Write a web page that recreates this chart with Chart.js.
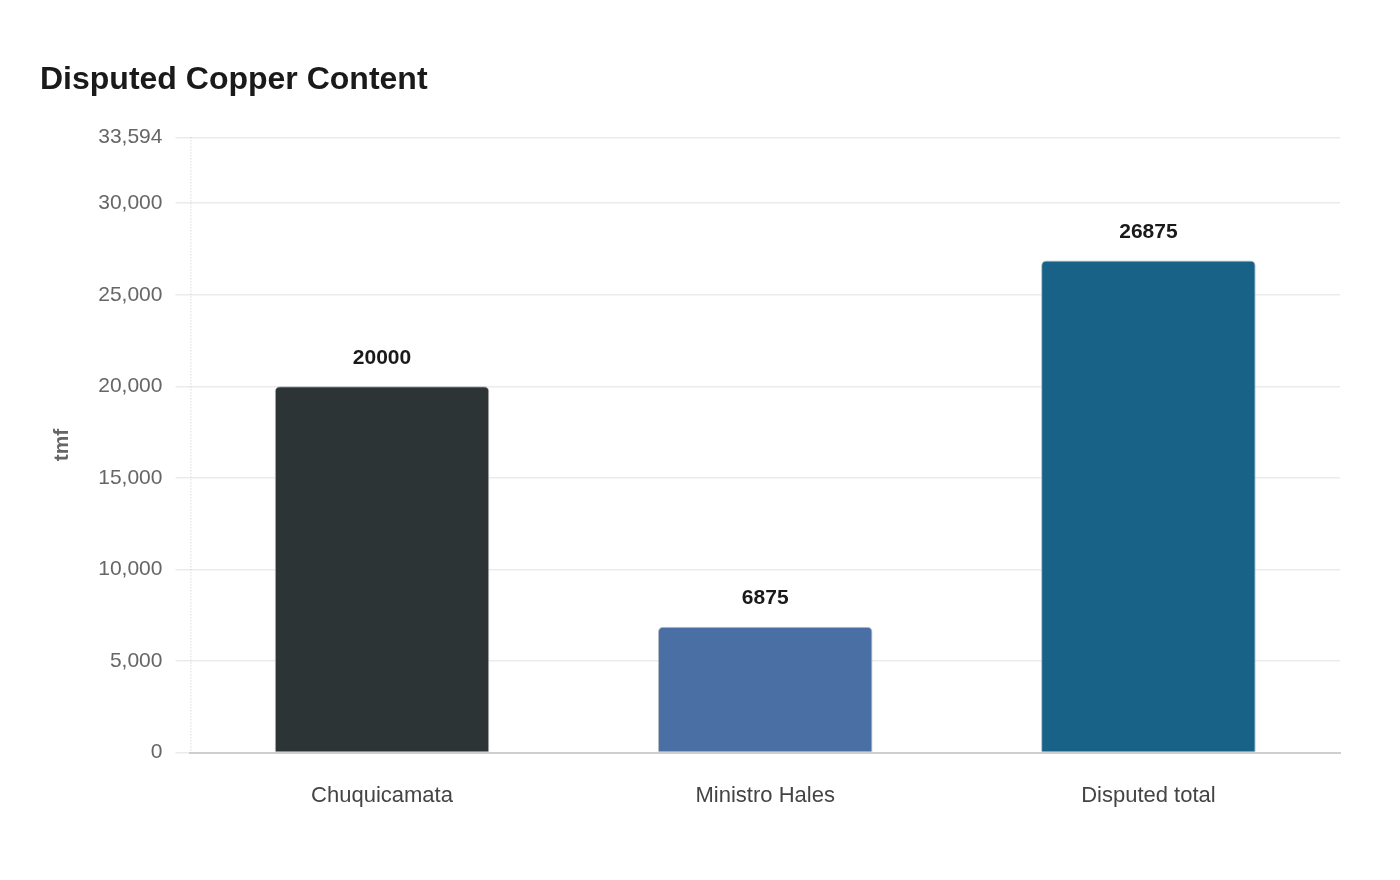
<!DOCTYPE html>
<html>
<head>
<meta charset="utf-8">
<script src="https://cdn.jsdelivr.net/npm/chart.js@4"></script>
<style>
  html, body { margin: 0; padding: 0; background: #fff; }
  #wrap { width: 1400px; height: 880px; }
</style>
</head>
<body>
<div id="wrap"><canvas id="c"></canvas></div>
<script>
// data
const categories = ["Chuquicamata", "Ministro Hales", "Disputed total"];
const copperTmf = [20000, 6875, 26875];
const barColors = ["#2d3436", "#4a6fa5", "#186187"];
const tickValues = [0, 5000, 10000, 15000, 20000, 25000, 30000];
const axisMax = 33593.75;

const FONT = "'Liberation Sans', Arial, sans-serif";

// draw the value above each bar
const barLabels = {
  id: "barLabels",
  afterDatasetsDraw(chart) {
    const ctx = chart.ctx;
    const meta = chart.getDatasetMeta(0);
    ctx.save();
    ctx.font = "bold 21px " + FONT;
    ctx.fillStyle = "#1a1a1a";
    ctx.textAlign = "center";
    ctx.textBaseline = "bottom";
    meta.data.forEach((bar, i) => {
      ctx.fillText(String(copperTmf[i]), bar.x, bar.y - 18);
    });
    ctx.restore();
  }
};

// dotted vertical axis line
const dottedYAxis = {
  id: "dottedYAxis",
  beforeDatasetsDraw(chart) {
    const { ctx, chartArea } = chart;
    ctx.save();
    ctx.strokeStyle = "#c8c8c8";
    ctx.lineWidth = 1;
    ctx.setLineDash([1, 2]);
    ctx.beginPath();
    ctx.moveTo(chartArea.left + 0.5, chartArea.top);
    ctx.lineTo(chartArea.left + 0.5, chartArea.bottom);
    ctx.stroke();
    ctx.restore();
  }
};

new Chart(document.getElementById("c"), {
  type: "bar",
  data: {
    labels: categories,
    datasets: [{
      data: copperTmf,
      backgroundColor: barColors,
      borderColor: "#b8bcc0",
      borderWidth: 1,
      borderSkipped: "bottom",
      borderRadius: { topLeft: 5, topRight: 5 },
      categoryPercentage: 1,
      barPercentage: 0.56
    }]
  },
  options: {
    responsive: true,
    maintainAspectRatio: false,
    animation: false,
    layout: { padding: { left: 40, right: 60, top: 61, bottom: 49 } },
    plugins: {
      legend: { display: false },
      tooltip: { enabled: false },
      title: {
        display: true,
        text: "Disputed Copper Content",
        align: "start",
        color: "#1a1a1a",
        font: { family: FONT, size: 32, weight: "bold" },
        padding: { top: 0, bottom: 38 }
      }
    },
    scales: {
      x: {
        grid: { display: false },
        border: { display: true, color: "#cfcfcf", width: 2 },
        ticks: {
          color: "#444",
          padding: 22,
          font: { family: FONT, size: 22 }
        }
      },
      y: {
        min: 0,
        max: axisMax,
        afterBuildTicks(scale) {
          scale.ticks = tickValues.concat([axisMax]).map(v => ({ value: v }));
        },
        grid: { color: "#ebebeb", lineWidth: 1.5, tickLength: 15 },
        border: { display: false },
        ticks: {
          color: "#666",
          padding: 13,
          font: { family: FONT, size: 21 },
          callback: v => Math.round(v).toLocaleString("en-US")
        },
        title: {
          display: true,
          text: "tmf",
          color: "#666",
          padding: { top: 10, bottom: 10 },
          font: { family: FONT, size: 21, weight: "bold" }
        }
      }
    }
  },
  plugins: [barLabels, dottedYAxis]
});
</script>
</body>
</html>
